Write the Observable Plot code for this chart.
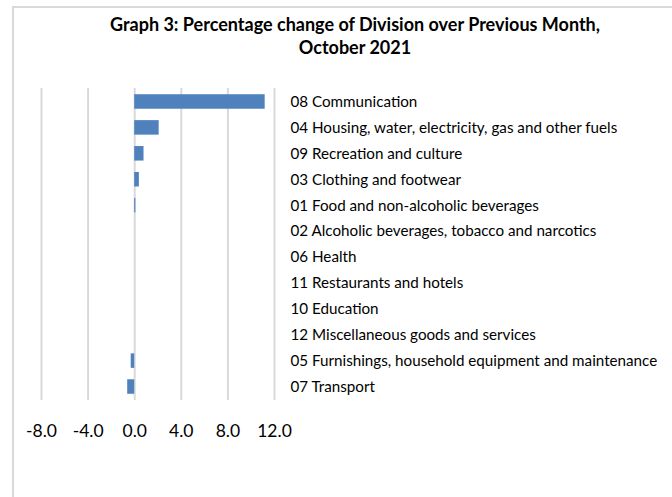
<!DOCTYPE html>
<html>
<head>
<meta charset="utf-8">
<script src="https://cdn.jsdelivr.net/npm/d3@7"></script>
<script src="https://cdn.jsdelivr.net/npm/@observablehq/plot@0.6"></script>
<style>
  html, body { margin: 0; padding: 0; background: #fff; }
  #frame { position: relative; width: 672px; height: 497px; overflow: hidden; background: #fff; }
  #border { position: absolute; left: 12px; top: 6px; width: 680px; height: 520px; border-left: 2px solid #d9d9d9; border-top: 2px solid #d9d9d9; box-sizing: border-box; }
  #title { position: absolute; left: 0; top: 13px; width: 710px; text-align: center; font-family: Lato, "Open Sans", sans-serif; font-weight: bold; font-size: 18px; line-height: 23px; color: #000; }
  #chart { position: absolute; left: 0; top: 70px; }
</style>
</head>
<body>
<div id="frame">
  <div id="border"></div>
  <div id="title">Graph 3: Percentage change of Division over Previous Month,<br>October 2021</div>
  <div id="chart"></div>
</div>
<script>
const categories = [
  "08 Communication",
  "04 Housing, water, electricity, gas and other fuels",
  "09 Recreation and culture",
  "03 Clothing and footwear",
  "01 Food and non-alcoholic beverages",
  "02 Alcoholic beverages, tobacco and narcotics",
  "06 Health",
  "11 Restaurants and hotels",
  "10 Education",
  "12 Miscellaneous goods and services",
  "05 Furnishings, household equipment and maintenance",
  "07 Transport"
];
const values = [11.2, 2.1, 0.8, 0.4, 0.1, 0.0, 0.0, 0.0, 0.0, 0.0, -0.3, -0.6];
const xTicks = [-8, -4, 0, 4, 8, 12];

const data = categories.map((c, i) => ({category: c, value: values[i]}));

const chart = Plot.plot({
  width: 672,
  height: 420,
  marginLeft: 41,
  marginRight: 398,
  marginTop: 18,
  marginBottom: 90,
  style: {fontFamily: "Lato, 'Open Sans', sans-serif", background: "transparent", color: "#000"},
  x: {domain: [-8, 12], ticks: xTicks, tickFormat: d => d.toFixed(1), label: null},
  y: {domain: categories, label: null, paddingInner: 0.44, paddingOuter: 0.24, round: false},
  marks: [
    Plot.gridX(xTicks, {stroke: "#d9d9d9", strokeOpacity: 1, strokeWidth: 2}),
    Plot.barX(data, {x: "value", y: "category", fill: "#4f81bd"}),
    Plot.axisX({ticks: xTicks, tickFormat: d => d.toFixed(1), tickSize: 0, tickPadding: 24, fontSize: 17.5, label: null}),
    Plot.axisY({anchor: "right", tickSize: 0, tickPadding: 16, fontSize: 15.2, label: null})
  ]
});
document.getElementById("chart").appendChild(chart);
</script>
</body>
</html>
